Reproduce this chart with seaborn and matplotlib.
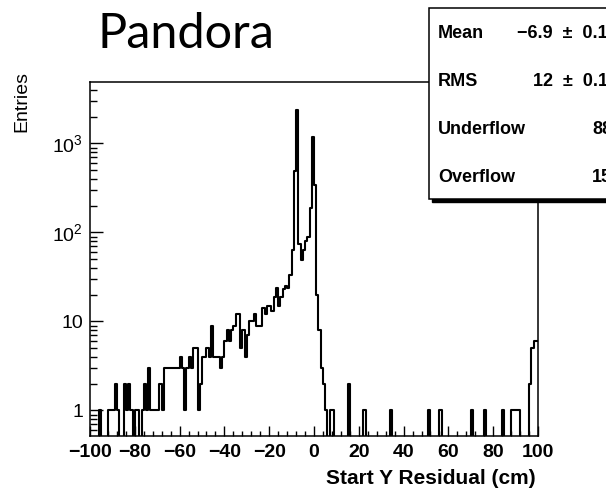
import numpy as np
import pandas as pd
import matplotlib
matplotlib.use("Agg")
import matplotlib.pyplot as plt
import seaborn as sns
from matplotlib.patches import Rectangle
from matplotlib.ticker import FixedLocator, FixedFormatter, MultipleLocator, LogLocator, NullFormatter

# ---------------- data (1 cm bins from -100 to 100) ----------------
x_min, x_max = -100, 100
# bins -100 .. -61
counts_a = [0, 0, 0, 0, 1, 0, 0, 0, 1, 1, 1, 2, 1, 0, 0, 2, 1, 2, 1, 0,
            1, 1, 0, 1, 2, 1, 3, 1, 1, 1, 1, 2, 1, 3, 3, 3, 3, 3, 3, 3]
# bins -60 .. -21
counts_b = [4, 3, 1, 3, 4, 3, 5, 5, 1, 2, 4, 4, 5, 4, 9, 4, 4, 4, 3, 4,
            6, 8, 6, 8, 9, 12, 12, 5, 8, 4, 7, 10, 10, 12, 9, 9, 9, 14, 12, 15]
# bins -20 .. 19
counts_c = [15, 13, 19, 24, 15, 19, 23, 25, 24, 33, 63, 495, 2350, 75, 49, 63, 80, 88, 190, 1170,
            345, 20, 8, 3, 2, 1, 0, 1, 1, 0, 0, 0, 0, 0, 0, 2, 0, 0, 0, 0]
# bins 20 .. 59
counts_d = [0, 0, 1, 0, 0, 0, 0, 0, 0, 0, 0, 0, 0, 0, 1, 0, 0, 0, 0, 0,
            0, 0, 0, 0, 0, 0, 0, 0, 0, 0, 0, 1, 0, 0, 0, 0, 1, 0, 0, 0]
# bins 60 .. 99
counts_e = [0, 0, 0, 0, 0, 0, 0, 0, 0, 0, 1, 0, 0, 0, 0, 0, 1, 0, 0, 0,
            0, 0, 0, 0, 1, 0, 0, 0, 1, 1, 1, 1, 0, 0, 0, 0, 2, 5, 6, 6]

title_text = "Pandora"
x_label = "Start Y Residual (cm)"
y_label = "Entries"
x_tick_values = [-100, -80, -60, -40, -20, 0, 20, 40, 60, 80, 100]
y_tick_values = [1, 10, 100, 1000]
y_tick_labels = ["1", "10", r"$\mathregular{10^{2}}$", r"$\mathregular{10^{3}}$"]
stat_names = ["Mean", "RMS", "Underflow", "Overflow"]
stat_values = ["\u22126.9  \u00b1  0.16", "12  \u00b1  0.11", "88", "15"]

counts_all = np.array(counts_a + counts_b + counts_c + counts_d + counts_e, dtype=float)
centers = np.arange(x_min, x_max, 1.0) + 0.5
df = pd.DataFrame({"resid": centers, "n": counts_all})

# ---------------- style ----------------
plt.rcParams["font.family"] = ["Liberation Sans", "DejaVu Sans"]
plt.rcParams["mathtext.fontset"] = "custom"
plt.rcParams["mathtext.rm"] = "Liberation Sans"

W, H = 606, 492
fig = plt.figure(figsize=(W / 100, H / 100), dpi=100)
fig.patch.set_facecolor("white")

ax_l, ax_r, ax_t, ax_b = 90, 538, 82, 436
ax = fig.add_axes([ax_l / W, 1 - ax_b / H, (ax_r - ax_l) / W, (ax_b - ax_t) / H])

sns.histplot(data=df, x="resid", weights="n", binwidth=1, binrange=(x_min, x_max),
             element="step", fill=False, color="black", linewidth=1.5, ax=ax)
ax.set_yscale("log")
ax.set_xlim(x_min, x_max)
ax.set_ylim(0.517, 4900)

for s in ax.spines.values():
    s.set_linewidth(1.1)
    s.set_color("black")

ax.xaxis.set_major_locator(FixedLocator(x_tick_values))
ax.xaxis.set_major_formatter(FixedFormatter([str(v).replace("-", "\u2212") for v in x_tick_values]))
ax.xaxis.set_minor_locator(MultipleLocator(4))
ax.yaxis.set_major_locator(FixedLocator(y_tick_values))
ax.yaxis.set_major_formatter(FixedFormatter(y_tick_labels))
ax.yaxis.set_minor_locator(LogLocator(base=10, subs=np.arange(2, 10)))
ax.yaxis.set_minor_formatter(NullFormatter())

ax.tick_params(axis="x", which="major", direction="in", length=7, width=1.0,
               labelsize=14, pad=6, top=False)
ax.tick_params(axis="x", which="minor", direction="in", length=3.5, width=1.0, top=False)
ax.tick_params(axis="y", which="major", direction="in", length=9, width=1.0,
               labelsize=14, pad=5, right=False)
ax.tick_params(axis="y", which="minor", direction="in", length=5, width=1.0, right=False)
for lab in ax.get_xticklabels():
    lab.set_fontweight("bold")
ax.set_xlabel("")
ax.set_ylabel("")

fig.text(536 / W, 1 - 479 / H, x_label, ha="right", va="center",
         fontsize=15, fontweight="bold")
fig.text(22 / W, 1 - 71 / H, y_label, ha="center", va="top", rotation=90, fontsize=14)

fig.text(97 / W, 1 - 48 / H, title_text, ha="left", va="baseline",
         fontsize=35, family=["Lato", "DejaVu Sans"])

# stats box
bx0, by0, bx1, by1 = 429, 8, 640, 199
shadow = Rectangle(((bx0 + 3) / W, 1 - (by1 + 3) / H), (bx1 - bx0) / W, (by1 - by0) / H,
                   transform=fig.transFigure, facecolor="black", edgecolor="black", zorder=9)
box = Rectangle((bx0 / W, 1 - by1 / H), (bx1 - bx0) / W, (by1 - by0) / H,
                transform=fig.transFigure, facecolor="white", edgecolor="black",
                linewidth=1.1, zorder=10)
fig.add_artist(shadow)
fig.add_artist(box)
row_y = [33, 82, 129, 177]
val_x = [517, 533, 592, 592]
for name, val, ry, vx in zip(stat_names, stat_values, row_y, val_x):
    fig.text(438 / W, 1 - ry / H, name, ha="left", va="center", fontsize=13,
             fontweight="bold", zorder=11)
    fig.text(vx / W, 1 - ry / H, val, ha="left", va="center", fontsize=13,
             fontweight="bold", zorder=11)

fig.savefig("out.png", dpi=100)
